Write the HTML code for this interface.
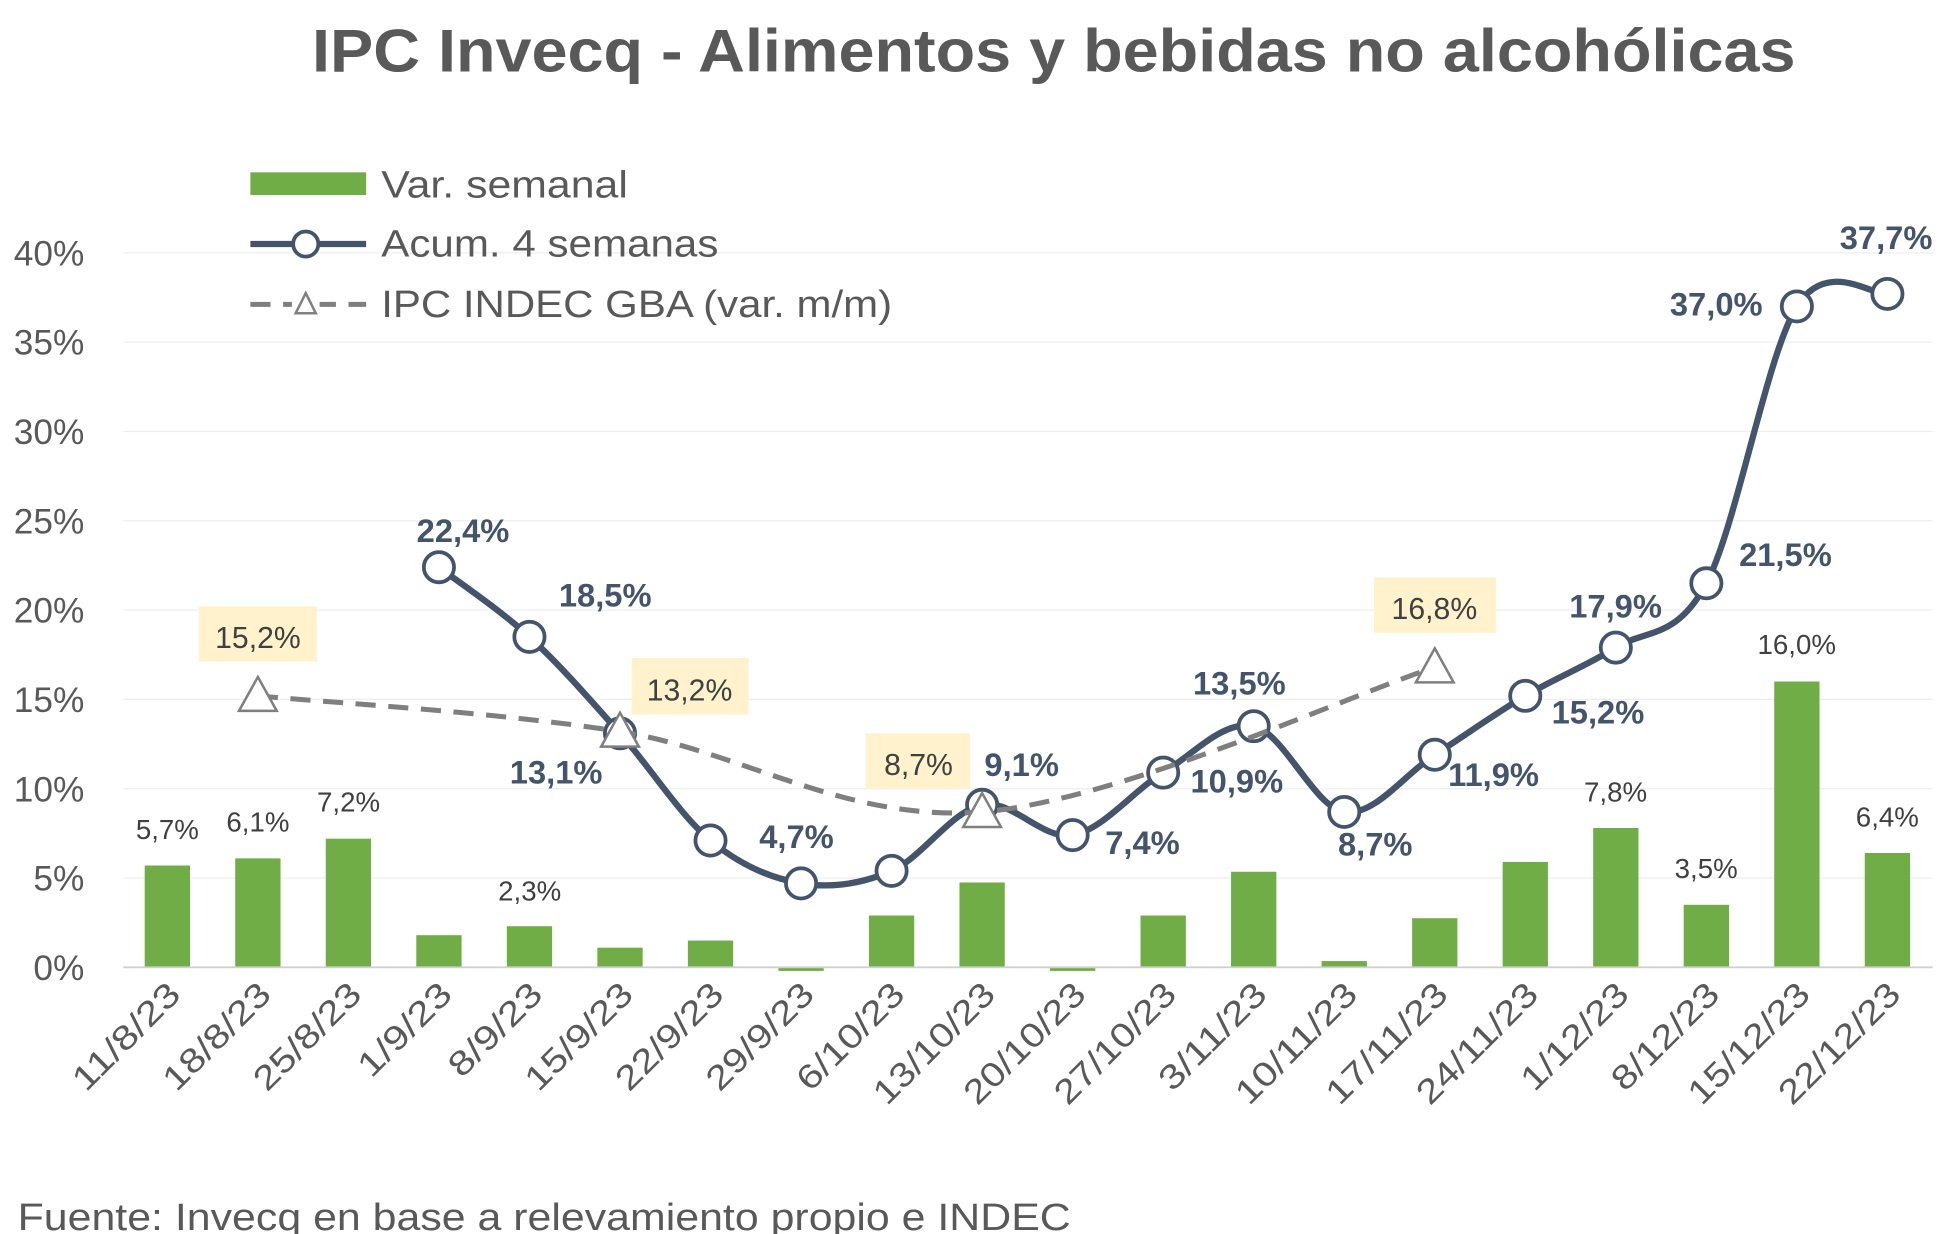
<!DOCTYPE html>
<html><head><meta charset="utf-8"><style>
html,body{margin:0;padding:0;background:#fff;}
svg{display:block;font-family:"Liberation Sans",sans-serif;}
</style></head><body>
<svg id="s" width="1949" height="1234" viewBox="0 0 1549 981" preserveAspectRatio="none" xmlns="http://www.w3.org/2000/svg">
<rect width="1549" height="981" fill="#fff"/>
<text x="248" y="57" font-size="48" font-weight="bold" fill="#595959" textLength="1179" lengthAdjust="spacingAndGlyphs">IPC Invecq - Alimentos y bebidas no alcohólicas</text>
<g id="grid" stroke="#eeeeee" stroke-width="1"></g>
<g font-size="28" fill="#595959" text-anchor="end">
<text x="67" y="211">40%</text><text x="67" y="282">35%</text><text x="67" y="353">30%</text><text x="67" y="424">25%</text><text x="67" y="495">20%</text><text x="67" y="566">15%</text><text x="67" y="637">10%</text><text x="67" y="708">5%</text><text x="67" y="779">0%</text>
</g>
<g id="bars" fill="#70ad47"></g>
<line x1="98" y1="769" x2="1536" y2="769" stroke="#d0d0d0" stroke-width="1.5"/>
<g id="xl" font-size="27" fill="#595959" text-anchor="end"></g>
<path id="acum" fill="none" stroke="#44546a" stroke-width="5"/>
<g id="circ"></g>
<path id="indec" fill="none" stroke="#7f7f7f" stroke-width="4" stroke-dasharray="16,10"/>
<g id="tri"></g>
<g fill="#fff2cc">
<rect x="158" y="482" width="94" height="44"/><rect x="502" y="523" width="93" height="45"/><rect x="688" y="583" width="83" height="44"/><rect x="1092" y="459" width="97" height="44"/>
</g>
<g font-size="24" fill="#404040" text-anchor="middle">
<text x="205" y="515">15,2%</text><text x="548" y="557">13,2%</text><text x="730" y="616">8,7%</text><text x="1140" y="492">16,8%</text>
</g>
<g font-size="22" fill="#404040" text-anchor="middle">
<text x="133" y="667">5,7%</text><text x="205" y="661">6,1%</text><text x="277" y="645">7,2%</text><text x="421" y="716">2,3%</text><text x="1284" y="637">7,8%</text><text x="1356" y="698">3,5%</text><text x="1428" y="520">16,0%</text><text x="1500" y="657">6,4%</text>
</g>
<g font-size="26" font-weight="bold" fill="#44546a" text-anchor="middle">
<text x="368" y="431">22,4%</text><text x="481" y="482">18,5%</text><text x="442" y="623">13,1%</text><text x="633" y="674">4,7%</text><text x="812" y="617">9,1%</text><text x="908" y="679">7,4%</text><text x="983" y="630">10,9%</text><text x="985" y="552">13,5%</text><text x="1093" y="680">8,7%</text><text x="1187" y="625">11,9%</text><text x="1270" y="575">15,2%</text><text x="1284" y="491">17,9%</text><text x="1419" y="450">21,5%</text><text x="1364" y="251">37,0%</text><text x="1499" y="198">37,7%</text>
</g>
<rect x="199" y="137" width="92" height="18" fill="#70ad47"/>
<line x1="199" y1="194" x2="291" y2="194" stroke="#44546a" stroke-width="5"/>
<circle cx="243" cy="194" r="10" fill="#fff" stroke="#44546a" stroke-width="3"/>
<line x1="199" y1="242" x2="291" y2="242" stroke="#7f7f7f" stroke-width="4" stroke-dasharray="16,10"/>
<rect x="232" y="230" width="22" height="22" fill="#fff"/>
<polygon points="243,233 235,249 251,249" fill="#fff" stroke="#7f7f7f" stroke-width="2"/>
<g font-size="30" fill="#595959">
<text x="303" y="157" textLength="196" lengthAdjust="spacingAndGlyphs">Var. semanal</text><text x="303" y="204" textLength="268" lengthAdjust="spacingAndGlyphs">Acum. 4 semanas</text><text x="303" y="252" textLength="406" lengthAdjust="spacingAndGlyphs">IPC INDEC GBA (var. m/m)</text>
</g>
<text x="14" y="978" font-size="30" fill="#595959" textLength="837" lengthAdjust="spacingAndGlyphs">Fuente: Invecq en base a relevamiento propio e INDEC</text>
</svg>
<script>
var NS="http://www.w3.org/2000/svg";
function X(i){return 133+71.95*i;}function Y(v){return 769-14.2*v;}
function el(p,t,a){var e=document.createElementNS(NS,t);for(var k in a)e.setAttribute(k,a[k]);document.getElementById(p).appendChild(e);return e;}
for(var v=5;v<=40;v+=5)el("grid","line",{x1:98,x2:1536,y1:Y(v),y2:Y(v)});
var bars=[5.7,6.1,7.2,1.8,2.3,1.1,1.5,-0.2,2.9,4.75,-0.2,2.9,5.35,0.35,2.75,5.9,7.8,3.5,16.0,6.4];
bars.forEach(function(b,i){var y=b>=0?Y(b):769;el("bars","rect",{x:X(i)-18,y:y,width:36,height:Math.abs(b)*14.2});});
var d=["11/8/23","18/8/23","25/8/23","1/9/23","8/9/23","15/9/23","22/9/23","29/9/23","6/10/23","13/10/23","20/10/23","27/10/23","3/11/23","10/11/23","17/11/23","24/11/23","1/12/23","8/12/23","15/12/23","22/12/23"];
d.forEach(function(t,i){var x=X(i)+12,y=792;var e=el("xl","text",{x:x,y:y,transform:"rotate(-45 "+x+" "+y+")",textLength:t.length*15.5,lengthAdjust:"spacingAndGlyphs"});e.textContent=t;});
function smooth(p){var s="M"+p[0][0]+","+p[0][1];for(var i=0;i<p.length-1;i++){var p0=p[i-1]||p[i],p1=p[i],p2=p[i+1],p3=p[i+2]||p2;var t=6;s+=" C"+(p1[0]+(p2[0]-p0[0])/t)+","+(p1[1]+(p2[1]-p0[1])/t)+" "+(p2[0]-(p3[0]-p1[0])/t)+","+(p2[1]-(p3[1]-p1[1])/t)+" "+p2[0]+","+p2[1];}return s;}
var ac=[22.4,18.5,13.1,7.1,4.7,5.4,9.1,7.4,10.9,13.5,8.7,11.9,15.2,17.9,21.5,37.0,37.7];
var ap=ac.map(function(v,i){return[X(i+3),Y(v)];});
document.getElementById("acum").setAttribute("d",smooth(ap));
ap.forEach(function(p){el("circ","circle",{cx:p[0],cy:p[1],r:12,fill:"#fff",stroke:"#44546a","stroke-width":3});});
var ip=[[X(1),Y(15.2)],[X(5),Y(13.2)],[X(9),Y(8.7)],[X(14),Y(16.8)]];
document.getElementById("indec").setAttribute("d",smooth(ip));
ip.forEach(function(p){el("tri","polygon",{points:p[0]+","+(p[1]-15)+" "+(p[0]-15)+","+(p[1]+12)+" "+(p[0]+15)+","+(p[1]+12),fill:"#fff",stroke:"#7f7f7f","stroke-width":2});});
</script>
</body></html>
